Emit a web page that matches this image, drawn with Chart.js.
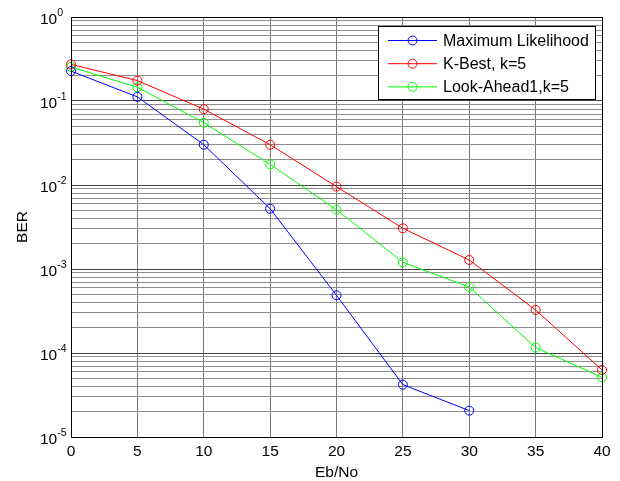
<!DOCTYPE html>
<html lang="en">
<head>
    <meta charset="UTF-8">
    <title>BER vs Eb/No</title>
    <script src="https://cdn.jsdelivr.net/npm/chart.js"></script>
    <style>
        body {
            margin: 0;
            padding: 0;
            background: #ffffff;
        }
        #berChart {
            display: block;
        }
    </style>
</head>
<body>
    <canvas id="berChart" width="620" height="481"></canvas>

    <script>
        // data
        const ebNo = [0, 5, 10, 15, 20, 25, 30, 35, 40];
        const berML = [0.227, 0.112, 0.0302, 0.00522, 4.86e-4, 4.2e-5, 2.06e-5];
        const berKBest = [0.273, 0.175, 0.080, 0.0302, 0.00955, 0.00305, 0.00128, 3.25e-4, 6.28e-5];
        const berLookAhead = [0.254, 0.1456, 0.0552, 0.0176, 0.00508, 0.0012, 6.1e-4, 1.16e-4, 5.14e-5];
        const seriesNames = ["Maximum Likelihood", "K-Best, k=5", "Look-Ahead1,k=5"];
        const seriesColors = ["#0000ff", "#ff0000", "#00ff00"];
        const xTicks = [0, 5, 10, 15, 20, 25, 30, 35, 40];
        const yExponents = [-5, -4, -3, -2, -1, 0];
        const xTitle = "Eb/No";
        const yTitle = "BER";

        const FONT = '"Liberation Sans", Arial, sans-serif';

        function toPoints(values) {
            return values.map((v, i) => ({ x: ebNo[i], y: v }));
        }

        function makeSet(i, values) {
            return {
                label: seriesNames[i],
                data: toPoints(values),
                borderColor: seriesColors[i],
                backgroundColor: "rgba(0,0,0,0)",
                borderWidth: 1,
                pointRadius: 4.5,
                pointHoverRadius: 4.5,
                pointBorderWidth: 1,
                pointStyle: "circle",
                tension: 0,
                clip: false
            };
        }

        // log grid lines: 1..9 x 10^e
        function logTicks() {
            const t = [];
            yExponents.forEach(e => {
                const top = e === yExponents[yExponents.length - 1] ? 1 : 9;
                for (let m = 1; m <= top; m++) {
                    t.push({ value: m * Math.pow(10, e), major: m === 1 });
                }
            });
            return t;
        }

        // frame, tick labels, titles and legend drawn like the MATLAB figure
        const matlabLook = {
            id: "matlabLook",
            afterDraw(chart) {
                const ctx = chart.ctx;
                const a = chart.chartArea;
                const xs = chart.scales.x;
                const ys = chart.scales.y;

                ctx.save();
                // axes box
                ctx.strokeStyle = "#000";
                ctx.lineWidth = 1;
                ctx.strokeRect(Math.round(a.left) + 0.5, Math.round(a.top) + 0.5,
                    Math.round(a.right - a.left), Math.round(a.bottom - a.top));

                ctx.fillStyle = "#000";
                // x tick labels
                ctx.font = "15.5px " + FONT;
                ctx.textAlign = "center";
                ctx.textBaseline = "alphabetic";
                xTicks.forEach(v => {
                    ctx.fillText(String(v), xs.getPixelForValue(v), a.bottom + 18.5);
                });

                // y tick labels 10^e
                yExponents.forEach(e => {
                    const py = ys.getPixelForValue(Math.pow(10, e));
                    ctx.textAlign = "left";
                    ctx.font = "15.5px " + FONT;
                    ctx.fillText("10", 40, py + 6.5);
                    const w = ctx.measureText("10").width;
                    ctx.font = "10.5px " + FONT;
                    ctx.fillText(String(e), 40 + w, py - 1.5);
                });

                // axis titles
                ctx.font = "15.5px " + FONT;
                ctx.textAlign = "center";
                ctx.fillText(xTitle, (a.left + a.right) / 2, a.bottom + 39.5);
                ctx.save();
                ctx.translate(26.5, (a.top + a.bottom) / 2);
                ctx.rotate(-Math.PI / 2);
                ctx.fillText(yTitle, 0, 0);
                ctx.restore();

                // legend
                const lx = 378.5, ly = 26.5, lw = 217, lh = 73;
                ctx.fillStyle = "#fff";
                ctx.fillRect(lx, ly, lw, lh);
                ctx.strokeStyle = "#000";
                ctx.strokeRect(lx, ly, lw, lh);
                chart.data.datasets.forEach((ds, i) => {
                    const cy = 40.5 + i * 23.2;
                    ctx.strokeStyle = ds.borderColor;
                    ctx.lineWidth = 1;
                    ctx.beginPath();
                    ctx.moveTo(388, cy);
                    ctx.lineTo(437, cy);
                    ctx.stroke();
                    ctx.beginPath();
                    ctx.arc(412.5, cy, 4.5, 0, Math.PI * 2);
                    ctx.stroke();
                    ctx.fillStyle = "#000";
                    ctx.font = "16px " + FONT;
                    ctx.textAlign = "left";
                    ctx.textBaseline = "middle";
                    ctx.fillText(ds.label, 443, cy + 1);
                });
                ctx.restore();
            }
        };

        const chart = new Chart(document.getElementById("berChart"), {
            type: "line",
            data: {
                datasets: [
                    makeSet(0, berML),
                    makeSet(1, berKBest),
                    makeSet(2, berLookAhead)
                ]
            },
            options: {
                responsive: false,
                animation: false,
                devicePixelRatio: 1,
                events: [],
                layout: {
                    autoPadding: false,
                    padding: { left: 0, top: 17, right: 18, bottom: 0 }
                },
                plugins: {
                    legend: { display: false },
                    tooltip: { enabled: false }
                },
                scales: {
                    x: {
                        type: "linear",
                        min: 0,
                        max: 40,
                        afterBuildTicks: s => { s.ticks = xTicks.map(v => ({ value: v })); },
                        afterFit: s => { s.height = 44; },
                        ticks: { display: false },
                        border: { display: false },
                        grid: { color: "#7a7a7a", lineWidth: 1, drawTicks: false }
                    },
                    y: {
                        type: "logarithmic",
                        min: 1e-5,
                        max: 1,
                        afterBuildTicks: s => { s.ticks = logTicks(); },
                        afterFit: s => { s.width = 71; },
                        ticks: { display: false },
                        border: { display: false },
                        grid: {
                            color: c => (c.tick && c.tick.major ? "#444444" : "#8e8e8e"),
                            lineWidth: 1,
                            drawTicks: false
                        }
                    }
                }
            },
            plugins: [matlabLook]
        });
    </script>
</body>
</html>
